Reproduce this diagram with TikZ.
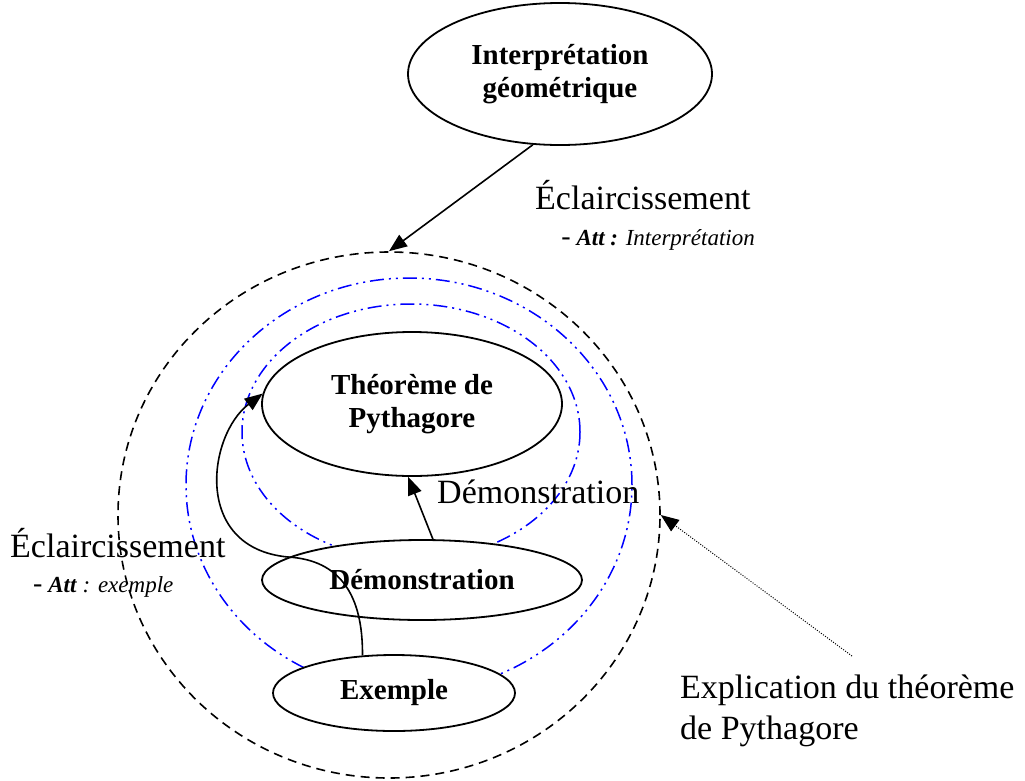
\documentclass[tikz,border=0pt]{standalone}
\usepackage{fontspec}
\setmainfont{Liberation Serif}
\usetikzlibrary{shapes.geometric,arrows.meta}
\begin{document}
\begin{tikzpicture}[x=1pt,y=-1pt,
  bubble/.style={ellipse,draw,line width=1.8pt,fill=white,inner sep=0pt,align=center,
    font=\fontsize{29}{33}\selectfont\bfseries},
  zone/.style={ellipse,inner sep=0pt},
  ringblack/.style={zone,draw,line width=1.6pt,dash pattern=on 9pt off 6pt},
  ringblue/.style={zone,draw=blue,line width=1.5pt,
    dash pattern=on 14pt off 5pt on 2pt off 5pt on 2pt off 5pt},
  link/.style={line width=1.6pt,-{Triangle[length=18pt,width=14pt]}},
  hint/.style={line width=1pt,dash pattern=on 1pt off 1.5pt,-{Triangle[length=18pt,width=14pt]}},
  caption/.style={font=\fontsize{34}{41}\selectfont,inner sep=0pt,align=left},
  note/.style={font=\fontsize{23}{28}\selectfont,inner sep=0pt}]
\useasboundingbox (0,0) rectangle (1025,780);

% nested zones around the theorem
\node[ringblack, minimum width=542pt, minimum height=526pt] (expl) at (389,515) {};
\node[ringblue, minimum width=446pt, minimum height=414pt] (outer) at (409,485) {};
\node[ringblue, minimum width=338pt, minimum height=256pt] (inner) at (411,432) {};

% concept bubbles
\node[bubble, minimum width=304pt, minimum height=142pt] (interp) at (560,74) {Interprétation\\géométrique};
\node[bubble, minimum width=300pt, minimum height=144pt] (theo) at (412,404) {Théorème de\\Pythagore};
\node[bubble, minimum width=320pt, minimum height=80pt] (demo) at (422,580) {Démonstration};
\node[bubble, minimum width=242pt, minimum height=76pt] (ex) at (394,693) {Exemple};

% free end of the dotted pointer
\coordinate (pin) at (852,656);

% connectors
\draw[link] (interp.249) -- (expl.90);
\draw[link] (demo.75) -- (theo.267);
\draw[link] (ex.130) .. controls (363,595) and (340,560) .. (288,557)
  .. controls (192,548) and (208,435) .. (theo.176);
\draw[hint] (pin) -- (expl.0);

% labels
\node[caption, anchor=base west] (ecl1) at (535,209) {Éclaircissement};
\node[note, anchor=base east] (att1) at (755,245) {{\fontsize{28}{28}\selectfont -}\ \textbf{\textit{Att :}} \textit{Interprétation}};
\node[caption, anchor=base west] (dlab) at (437,503) {Démonstration};
\node[caption, anchor=base west] (ecl2) at (10,557) {Éclaircissement};
\node[note, anchor=base west] (att2) at (33,592) {{\fontsize{28}{28}\selectfont -}\ \textbf{\textit{Att}} \textit{: exemple}};
\node[caption, anchor=base west] (expltxt) at (680,739) {Explication du théorème\\de Pythagore};
\end{tikzpicture}
\end{document}
